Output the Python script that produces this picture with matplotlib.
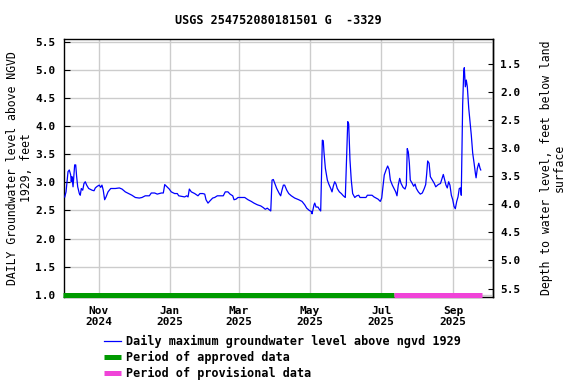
import numpy as np
import pandas as pd
import matplotlib
matplotlib.use('Agg')
import matplotlib.pyplot as plt
import matplotlib.dates as mdates
from matplotlib.lines import Line2D

plt.rcParams['font.family'] = 'DejaVu Sans Mono'
plt.rcParams['font.weight'] = 'bold'

site_title = 'USGS 254752080181501 G  -3329'
start_date = pd.Timestamp('2024-10-01')

# days after start_date, daily max level (ft above NGVD 1929)
day_offset = [
    1.9, 3.0, 4.7, 5.8, 7.0, 7.5, 8.1, 9.0, 10.4, 11.3, 12.1, 13.0, 14.4, 15.2,
    16.1, 17.3, 18.4, 19.5, 20.7, 22.4, 25.3, 27.0, 28.1, 29.8, 31.5, 32.7, 33.8,
    34.9, 36.1, 37.3, 39.0, 41.3, 45.2, 48.7, 51.0, 53.8, 56.7, 59.5, 62.4, 65.8,
    68.1, 70.9, 74.4, 76.1, 79.0, 81.2, 84.7, 86.4, 87.6, 89.6, 91.5, 93.2, 96.1,
    98.4, 99.6, 104.7, 106.4, 107.6, 108.7, 110.4, 113.3, 116.1, 117.8, 120.2,
    121.9, 123.0, 124.7, 126.4, 128.7, 130.4, 132.7, 137.8, 139.5, 141.8, 143.6,
    145.9, 147.0, 148.7, 150.4, 153.2, 156.2, 159.0, 161.8, 164.1, 167.0, 169.9,
    172.1, 173.8, 175.5, 177.3, 178.5, 179.6, 180.7, 182.2, 183.6, 185.8, 187.0,
    188.1, 189.3, 190.4, 192.2, 193.9, 196.1, 199.0, 202.5, 205.3, 207.6, 209.3,
    211.5, 213.3, 213.9, 215.6, 216.2, 217.3, 219.0, 220.1, 221.3, 222.7, 223.5,
    224.1, 225.3, 227.0, 228.2, 229.9, 231.0, 232.1, 233.3, 234.4, 235.5, 237.3,
    239.0, 240.7, 242.4, 244.5, 245.3, 245.8, 246.4, 247.5, 248.7, 250.5, 252.2,
    253.9, 255.0, 260.1, 261.3, 265.3, 267.0, 268.7, 270.5, 272.4, 273.6, 274.5,
    275.8, 277.5, 278.7, 279.9, 281.0, 282.7, 284.4, 285.6, 286.7, 287.8, 289.0,
    290.2, 291.9, 293.6, 294.7, 295.5, 296.4, 297.3, 298.1, 299.8, 301.0, 302.2,
    303.3, 305.0, 306.7, 308.4, 310.1, 311.3, 312.2, 313.0, 314.2, 315.3, 317.0,
    318.7, 319.9, 322.1, 324.0, 325.3, 326.4, 327.6, 328.7, 329.8, 331.0, 332.1,
    333.3, 334.5, 335.6, 336.7, 337.9, 339.0, 340.1, 341.3, 341.8, 343.0, 343.9,
    344.4, 345.3, 346.1, 347.0, 348.2, 349.3, 350.4, 351.6, 352.8, 353.9, 354.5,
    355.6, 356.8, 357.9, 358.5,
]
level_ft = [
    2.74, 2.83, 3.19, 3.22, 3.13, 3.01, 3.10, 2.92, 3.31, 3.31, 3.10, 2.92, 2.80, 2.77,
    2.89, 2.86, 2.98, 3.01, 2.95, 2.89, 2.86, 2.85, 2.90, 2.93, 2.95, 2.91, 2.95,
    2.86, 2.69, 2.74, 2.83, 2.89, 2.89, 2.90, 2.88, 2.83, 2.80, 2.77, 2.73, 2.72,
    2.73, 2.76, 2.76, 2.81, 2.81, 2.79, 2.81, 2.81, 2.96, 2.92, 2.88, 2.83, 2.80,
    2.80, 2.76, 2.74, 2.76, 2.74, 2.88, 2.83, 2.80, 2.76, 2.80, 2.80,
    2.79, 2.69, 2.63, 2.67, 2.72, 2.73, 2.76, 2.76, 2.83, 2.83, 2.79,
    2.76, 2.69, 2.70, 2.73, 2.73, 2.73, 2.69, 2.66, 2.63, 2.60, 2.58,
    2.55, 2.52, 2.54, 2.51, 2.49, 3.04, 3.05, 2.97, 2.89, 2.80, 2.76,
    2.86, 2.95, 2.95, 2.86, 2.80, 2.76, 2.72, 2.69, 2.66, 2.60, 2.54,
    2.50, 2.48, 2.44, 2.60, 2.63, 2.56, 2.56, 2.52, 2.49, 3.75, 3.74,
    3.54, 3.25, 3.04, 2.97, 2.89, 2.83, 2.93, 3.01, 2.97, 2.89, 2.83,
    2.80, 2.76, 2.73, 4.08, 4.04, 3.75, 3.40, 3.04, 2.80, 2.73, 2.76,
    2.77, 2.73, 2.73, 2.77, 2.77, 2.74, 2.72, 2.70, 2.66, 2.72, 2.89,
    3.13, 3.23, 3.29, 3.23, 3.04, 2.95, 2.88, 2.83, 2.76, 2.95, 3.07,
    2.98, 2.91, 2.88, 2.95, 3.60, 3.54, 3.34, 3.04, 2.98, 2.93, 2.97,
    2.89, 2.83, 2.79, 2.81, 2.89, 2.96, 3.16, 3.38, 3.34, 3.10, 3.04,
    2.98, 2.92, 2.96, 2.98, 3.07, 3.14, 3.04, 2.95, 2.90, 3.01, 2.95,
    2.77, 2.69, 2.57, 2.53, 2.66, 2.74, 2.89, 2.90, 2.77, 4.38, 4.97,
    5.04, 4.70, 4.82, 4.70, 4.32, 4.08, 3.84, 3.52, 3.34, 3.16, 3.08,
    3.25, 3.34, 3.25, 3.22,
]

approved_period = ['2024-10-01 12:00', '2025-07-12 12:00']
provisional_period = ['2025-07-12 12:00', '2025-09-25 18:00']
land_surface_ft = 6.61

dates = start_date + pd.to_timedelta(day_offset, unit='D')

fig = plt.figure(figsize=(5.76, 3.84), dpi=100)
ax = fig.add_axes([0.1116, 0.2273, 0.7448, 0.6703])

ax.plot(dates, level_ft, color='#0000ff', lw=0.9, zorder=3)
ax.plot(pd.to_datetime(approved_period), [1.0, 1.0], color='#009a00', lw=3.6,
        solid_capstyle='butt', zorder=4, clip_on=False)
ax.plot(pd.to_datetime(provisional_period), [1.0, 1.0], color='#f044d8', lw=3.6,
        solid_capstyle='butt', zorder=4, clip_on=False)

ax.set_xlim(pd.Timestamp('2024-10-02 12:00'), pd.Timestamp('2025-10-05 06:00'))
ax.set_ylim(0.964, 5.545)
ax.set_yticks(np.arange(1.0, 5.51, 0.5))
ax.yaxis.set_major_formatter(plt.FormatStrFormatter('%.1f'))
ax.xaxis.set_major_locator(mdates.MonthLocator(bymonth=[1, 3, 5, 7, 9, 11]))
ax.xaxis.set_major_formatter(mdates.DateFormatter('%b\n%Y'))

ax.grid(color='#cccccc', lw=1.0, zorder=0)
ax.set_axisbelow(True)
for s in ax.spines.values():
    s.set_linewidth(1.0)
ax.tick_params(axis='y', direction='in', length=4, width=0.8, labelsize=8, pad=6.5)
ax.tick_params(axis='x', length=0, labelsize=8, pad=6.5)

ax.set_ylabel('DAILY Groundwater level above NGVD\n1929, feet', fontsize=8.3,
              multialignment='center', linespacing=1.05)
ax.yaxis.set_label_coords(-0.073, 0.5)

sec = ax.secondary_yaxis('right', functions=(lambda v: land_surface_ft - v,
                                             lambda d: land_surface_ft - d))
sec.set_yticks(np.arange(1.5, 5.51, 0.5))
sec.yaxis.set_major_formatter(plt.FormatStrFormatter('%.1f'))
sec.tick_params(axis='y', direction='in', length=3.5, width=0.8, labelsize=8, pad=5)
sec.spines['right'].set_linewidth(1.0)
sec.set_ylabel('Depth to water level, feet below land\nsurface', fontsize=8.3,
               multialignment='center', rotation=90, linespacing=1.0)
sec.yaxis.set_label_coords(1.109, 0.5, transform=ax.transAxes)

fig.text(0.484, 1 - 21 / 384, site_title, ha='center', va='center', fontsize=8.5)

handles = [
    Line2D([], [], color='#0000ff', lw=0.9),
    Line2D([], [], color='#009a00', lw=3.6, solid_capstyle='butt'),
    Line2D([], [], color='#f044d8', lw=3.6, solid_capstyle='butt'),
]
labels = ['Daily maximum groundwater level above ngvd 1929',
          'Period of approved data', 'Period of provisional data']
fig.legend(handles, labels, loc='upper left', bbox_to_anchor=(104 / 576, 1 - 335 / 384),
           frameon=False, fontsize=8.5, handlelength=1.4, handletextpad=0.5,
           labelspacing=0.25, borderpad=0, borderaxespad=0)

fig.savefig('out.png', dpi=100)
